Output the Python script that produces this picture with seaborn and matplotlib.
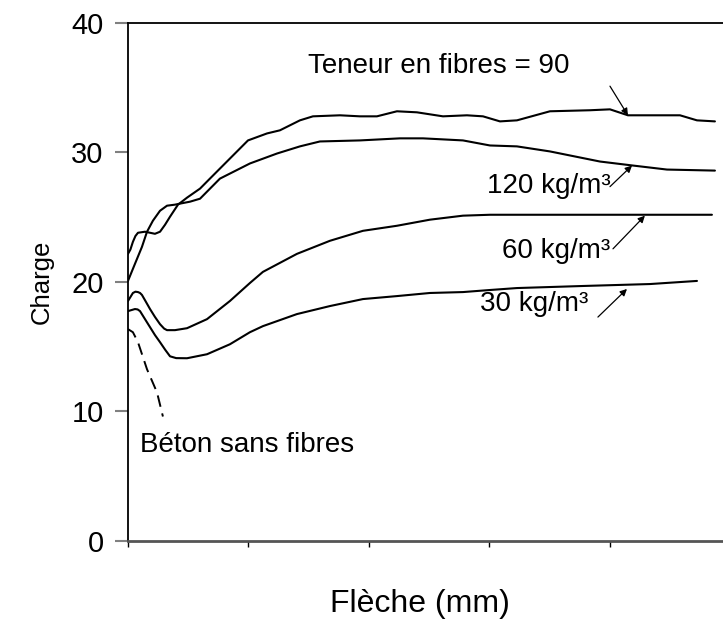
import numpy as np
import pandas as pd
import matplotlib
matplotlib.use("Agg")
import matplotlib.pyplot as plt
import seaborn as sns

# Load-deflection curves (x = deflection, y = load)
x_90 = [0, 0.020, 0.041, 0.062, 0.083, 0.141, 0.183, 0.224, 0.266, 0.307, 0.349, 0.415, 0.490,
        0.598, 0.680, 0.846, 0.996, 1.154, 1.261, 1.427, 1.535, 1.759, 1.925, 2.066, 2.232,
        2.398, 2.614, 2.813, 2.946, 3.087, 3.228, 3.502, 3.834, 4.000, 4.149, 4.332, 4.581,
        4.722, 4.871]
y_90 = [22.17, 22.50, 23.10, 23.55, 23.80, 23.88, 23.80, 23.72, 23.88, 24.41, 25.04, 25.97, 26.51,
        27.21, 27.98, 29.53, 30.93, 31.47, 31.71, 32.48, 32.79, 32.87, 32.79, 32.79, 33.18,
        33.10, 32.79, 32.87, 32.79, 32.40, 32.48, 33.18, 33.26, 33.33, 32.87, 32.87, 32.87,
        32.48, 32.40]

x_120 = [0, 0.058, 0.116, 0.158, 0.207, 0.266, 0.324, 0.390, 0.432, 0.515, 0.598, 0.763,
         1.012, 1.237, 1.427, 1.593, 1.925, 2.257, 2.448, 2.780, 3.004, 3.228, 3.502, 3.917,
         4.191, 4.473, 4.871]
y_120 = [20.08, 21.40, 22.71, 23.88, 24.73, 25.50, 25.89, 25.97, 26.05, 26.20, 26.43, 27.98,
         29.15, 29.92, 30.47, 30.85, 30.93, 31.09, 31.09, 30.93, 30.54, 30.47, 30.08, 29.30,
         28.99, 28.68, 28.60]

x_60 = [0, 0.041, 0.062, 0.083, 0.100, 0.116, 0.150, 0.183, 0.224, 0.266, 0.300, 0.324, 0.390,
        0.490, 0.656, 0.846, 1.012, 1.120, 1.402, 1.676, 1.950, 2.232, 2.506, 2.780, 3.004,
        3.228, 3.776, 4.332, 4.846]
y_60 = [18.53, 19.15, 19.25, 19.22, 19.15, 19.00, 18.45, 17.91, 17.30, 16.74, 16.40, 16.28, 16.28,
        16.43, 17.13, 18.53, 19.92, 20.78, 22.17, 23.18, 23.95, 24.34, 24.81, 25.12, 25.19,
        25.19, 25.19, 25.19, 25.19]

x_30 = [0, 0.058, 0.080, 0.100, 0.140, 0.183, 0.224, 0.266, 0.310, 0.349, 0.400, 0.490, 0.656,
        0.846, 1.012, 1.120, 1.402, 1.676, 1.950, 2.232, 2.506, 2.780, 3.004, 3.228, 3.776,
        4.332, 4.722]
y_30 = [17.75, 17.91, 17.88, 17.75, 17.15, 16.51, 15.90, 15.35, 14.75, 14.26, 14.12, 14.11, 14.42,
        15.19, 16.12, 16.59, 17.52, 18.14, 18.68, 18.91, 19.15, 19.22, 19.38, 19.53, 19.69,
        19.84, 20.08]

x_plain = [0, 0.041, 0.083, 0.158, 0.241, 0.290]
y_plain = [16.36, 16.12, 15.35, 13.26, 11.47, 9.61]

y_ticks = [0, 10, 20, 30, 40]
x_ticks = [0, 1, 2, 3, 4]

sns.set_theme(style="white")
plt.rcParams['font.family'] = ['Liberation Sans', 'DejaVu Sans']
plt.rcParams['text.color'] = 'black'
plt.rcParams['axes.labelcolor'] = 'black'
plt.rcParams['ytick.labelcolor'] = 'black'

fig = plt.figure(figsize=(7.23, 6.36), dpi=100)
ax = fig.add_axes([0.177, 0.1494, 0.85, 0.8145])

for xs, ys in [(x_90, y_90), (x_120, y_120), (x_60, y_60), (x_30, y_30)]:
    sns.lineplot(x=xs, y=ys, ax=ax, color='black', linewidth=1.5, estimator=None, sort=False)

sns.lineplot(x=x_plain, y=y_plain, ax=ax, color='black', linewidth=1.4,
             estimator=None, sort=False, linestyle=(0, (6, 3.5)))

ax.set_xlim(0, 5.1)
ax.set_ylim(0, 40)
ax.set_xticks(x_ticks)
ax.set_xticklabels([])
ax.set_yticks(y_ticks)
ax.tick_params(axis='y', direction='out', length=9.5, width=1.5, color='#808080',
               labelsize=21, pad=8, left=True, labelcolor='black')
ax.tick_params(axis='x', direction='out', length=4, width=1, color='black', bottom=True)

for side in ['top', 'left']:
    ax.spines[side].set_color('black')
    ax.spines[side].set_linewidth(1.3)
ax.spines['bottom'].set_color('#555555')
ax.spines['bottom'].set_linewidth(2)
ax.spines['right'].set_visible(False)

ax.set_ylabel('Charge', fontsize=18.5)
ax.yaxis.set_label_coords(-0.12, 0.5)
ax.set_xlabel('Flèche (mm)', fontsize=23)
ax.xaxis.set_label_coords(0.475, -0.093)

# curve labels with small arrows
arrow = dict(arrowstyle='-|>', color='black', lw=0.9, mutation_scale=10, shrinkA=0, shrinkB=0)
ax.text(1.494, 36.67, 'Teneur en fibres = 90', fontsize=20, va='center', ha='left')
ax.annotate('', xy=(4.149, 32.87), xytext=(4.0, 35.12), arrowprops=arrow)
ax.text(2.979, 27.44, '120 kg/m³', fontsize=20, va='center', ha='left')
ax.annotate('', xy=(4.183, 28.99), xytext=(4.0, 27.36), arrowprops=arrow)
ax.text(3.104, 22.40, '60 kg/m³', fontsize=20, va='center', ha='left')
ax.annotate('', xy=(4.290, 25.12), xytext=(4.025, 22.56), arrowprops=arrow)
ax.text(2.921, 18.29, '30 kg/m³', fontsize=20, va='center', ha='left')
ax.annotate('', xy=(4.141, 19.46), xytext=(3.900, 17.29), arrowprops=arrow)
ax.text(0.10, 7.44, 'Béton sans fibres', fontsize=20, va='center', ha='left')

fig.savefig('out.png', dpi=100)
